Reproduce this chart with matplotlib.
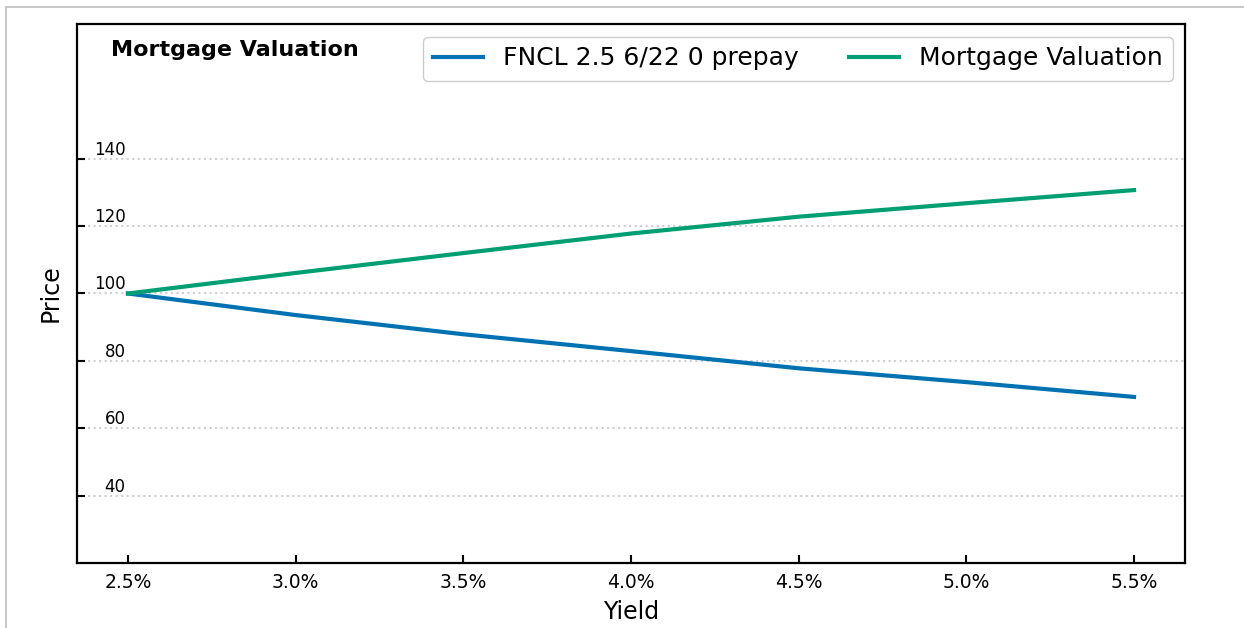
from matplotlib import pyplot as plt
from matplotlib.patches import Rectangle
from matplotlib.ticker import FuncFormatter

# yield (%) vs price
yields = [2.5, 3.0, 3.5, 4.0, 4.5, 5.0, 5.5]
fncl_price = [100.0, 93.6, 87.9, 82.9, 77.8, 73.7, 69.3]
mortgage_price = [100.0, 106.1, 112.0, 117.8, 122.8, 126.8, 130.7]
y_ticks = [40, 60, 80, 100, 120, 140]
x_ticks = [2.5, 3.0, 3.5, 4.0, 4.5, 5.0, 5.5]

W, H = 1244, 628
fig = plt.figure(figsize=(W / 100, H / 100), dpi=100)
# light frame around the figure (only top/left visible in the crop)
fig.patches.append(Rectangle((6 / W, -0.1), 1.2, (H - 7) / H + 0.1, transform=fig.transFigure,
                             fill=False, edgecolor='#bdbdbd', linewidth=1.2))

ax = fig.add_axes([77 / W, (H - 563) / H, 1108 / W, 539 / H])

ax.plot(yields, fncl_price, color='#0072B2', lw=3, label='FNCL 2.5 6/22 0 prepay')
ax.plot(yields, mortgage_price, color='#009E73', lw=3, label='Mortgage Valuation')

ax.set_xlim(2.348, 5.652)
ax.set_ylim(20, 180)
ax.set_xticks(x_ticks)
ax.set_yticks(y_ticks)
ax.xaxis.set_major_formatter(FuncFormatter(lambda v, p: f"{v:.1f}%"))

ax.grid(axis='y', linestyle=':', color='#cfcfcf', linewidth=1.5)
ax.tick_params(axis='both', direction='in', length=6, width=1.5)
ax.tick_params(axis='x', labelsize=13.5, pad=7)
ax.tick_params(axis='y', labelsize=12, pad=-35)
for lbl in ax.get_yticklabels():
    lbl.set_va('bottom')

for s in ax.spines.values():
    s.set_linewidth(1.6)

ax.set_xlabel("Yield", fontsize=17, labelpad=6)
ax.set_ylabel("Price", fontsize=17, labelpad=10)

ax.text(0.031, 0.952, "Mortgage Valuation", transform=ax.transAxes,
        fontsize=16, fontweight='bold', ha='left', va='center')

ax.legend(loc='upper right', ncol=2, fontsize=18, handlelength=2, columnspacing=2,
          framealpha=1, edgecolor='#cccccc')

fig.savefig('out.png', dpi=100)
